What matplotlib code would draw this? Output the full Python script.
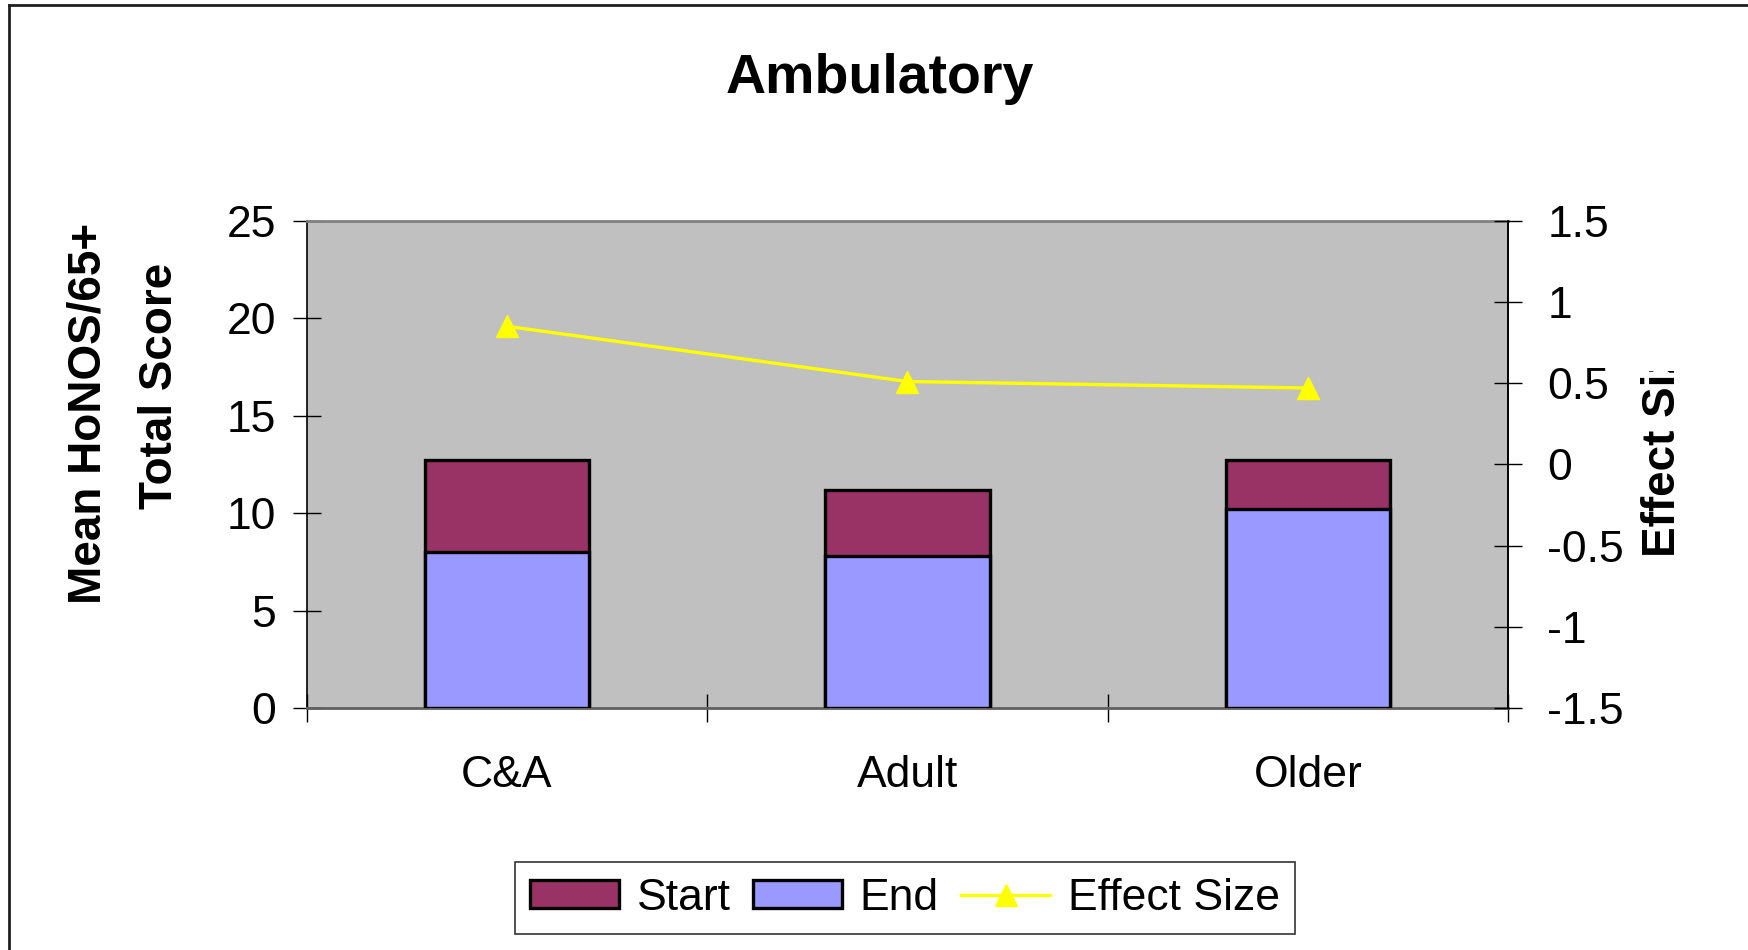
import matplotlib.pyplot as plt
from matplotlib.lines import Line2D
from matplotlib.patches import Patch
from matplotlib.transforms import Bbox, TransformedBbox

plt.rcParams['font.family'] = ['Liberation Sans', 'DejaVu Sans']
plt.rcParams['axes.unicode_minus'] = False

groups = ['C&A', 'Adult', 'Older']
start_scores = [12.7, 11.2, 12.7]
end_scores = [8.0, 7.8, 10.2]
effect_size = [0.85, 0.51, 0.47]

start_col = '#993366'
end_col = '#9999FF'
fs = 32

fig = plt.figure(figsize=(17.48, 9.5), dpi=100)
ax = fig.add_axes([0.1754, 0.2547, 0.6875, 0.513])
ax.set_facecolor('#C0C0C0')

x = range(len(groups))
# start bar behind, end bar drawn over it from zero
ax.bar(x, start_scores, width=0.41, color=start_col, edgecolor='black', linewidth=2.4, zorder=2)
ax.bar(x, end_scores, width=0.41, color=end_col, edgecolor='black', linewidth=2.4, zorder=3)

ax.set_xlim(-0.5, 2.5)
ax.set_ylim(0, 25)
ax.set_yticks([0, 5, 10, 15, 20, 25])
ax.set_xticks([-0.5, 0.5, 1.5, 2.5])
ax.set_xticklabels([])
ax.set_xticks([0, 1, 2], minor=True)
ax.set_xticklabels(groups, minor=True, fontsize=fs)
ax.tick_params(axis='x', which='minor', length=0, pad=34)
ax.tick_params(axis='x', which='major', direction='inout', length=20, width=1)
ax.tick_params(axis='y', direction='inout', length=20, width=1, labelsize=fs, pad=12)

ax.spines['top'].set_color('#808080')
ax.spines['top'].set_linewidth(2)
ax.spines['bottom'].set_color('#606060')
ax.spines['bottom'].set_linewidth(2)
ax.spines['left'].set_color('black')
ax.spines['right'].set_color('black')
ax.spines['left'].set_linewidth(1.2)
ax.spines['right'].set_linewidth(1.2)

ax2 = ax.twinx()
ax2.plot(x, effect_size, color='#FFFF00', linewidth=2.4, marker='^', markersize=16,
         markerfacecolor='#FFFF00', markeredgecolor='#FFFF00', zorder=5)
ax2.set_ylim(-1.5, 1.5)
ax2.set_yticks([-1.5, -1, -0.5, 0, 0.5, 1, 1.5])
ax2.set_yticklabels(['-1.5', '-1', '-0.5', '0', '0.5', '1', '1.5'])
ax2.tick_params(axis='y', direction='inout', length=20, width=1, labelsize=fs, pad=18)
for s in ['top', 'bottom', 'left']:
    ax2.spines[s].set_visible(False)
ax2.spines['right'].set_color('black')
ax2.spines['right'].set_linewidth(1.2)

fig.text(880 / 1748, 1 - 79 / 950, 'Ambulatory', fontsize=40, fontweight='bold',
         ha='center', va='center')

fig.text(89 / 1748, 1 - 413 / 950, 'Mean HoNOS/65+', fontsize=33, fontweight='bold',
         rotation=90, ha='center', va='center')
fig.text(160 / 1748, 1 - 386 / 950, 'Total Score', fontsize=33, fontweight='bold',
         rotation=90, ha='center', va='center')

# right axis title runs off the chart area and gets cut
rlab = fig.text(1663 / 1748, 1 - 557 / 950, 'Effect Size', fontsize=33, fontweight='bold',
                rotation=90, ha='center', va='bottom')
rlab.set_clip_box(TransformedBbox(Bbox.from_extents(0, 0, 1, 1 - 371 / 950), fig.transFigure))
rlab.set_clip_on(True)

handles = [
    Patch(facecolor=start_col, edgecolor='black', linewidth=2.4, label='Start'),
    Patch(facecolor=end_col, edgecolor='black', linewidth=2.4, label='End'),
    Line2D([], [], color='#FFFF00', linewidth=2.4, marker='^', markersize=16, label='Effect Size'),
]
leg = fig.legend(handles=handles, loc='center', bbox_to_anchor=(905 / 1748, 1 - 898 / 950),
                 ncol=3, fontsize=fs, frameon=True, fancybox=False, handlelength=2.0,
                 handleheight=0.6, handletextpad=0.4, columnspacing=0.5, borderpad=0.35)
leg.get_frame().set_edgecolor('black')
leg.get_frame().set_linewidth(1.2)

# outer chart border, only top and left edges show
fig.add_artist(Line2D([9 / 1748, 9 / 1748], [0, 1 - 5 / 950], transform=fig.transFigure,
                      color='#202020', linewidth=2))
fig.add_artist(Line2D([9 / 1748, 1], [1 - 5 / 950, 1 - 5 / 950], transform=fig.transFigure,
                      color='#202020', linewidth=2))

fig.savefig('out.png', dpi=100)
